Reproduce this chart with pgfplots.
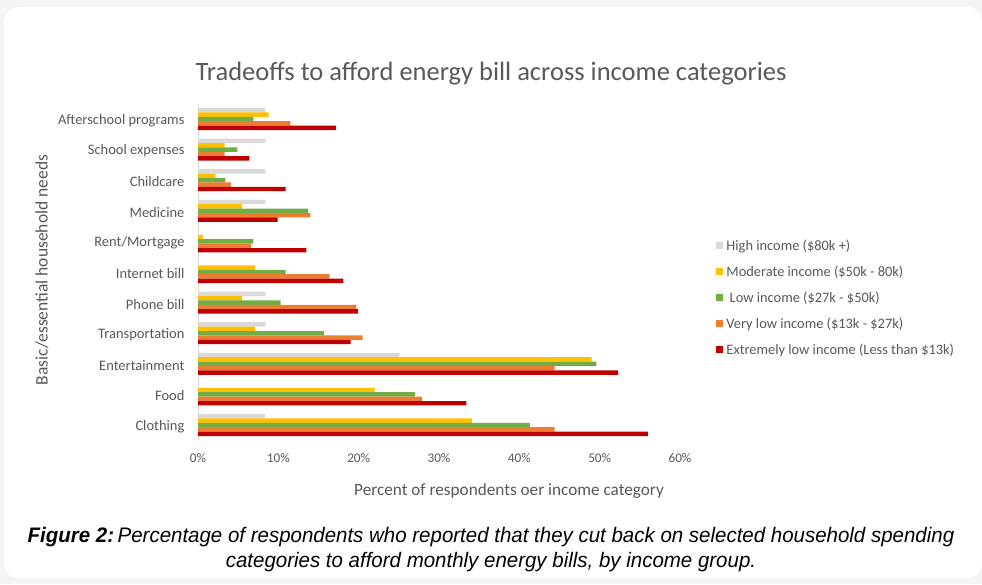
\documentclass[border=0pt]{standalone}
\usepackage{pgfplots}
\pgfplotsset{compat=1.18}
\usepackage{fontspec}
\setmainfont{Carlito}
\newfontfamily\capfont[FakeStretch=0.975]{Liberation Sans}
\definecolor{bggray}{HTML}{F4F5F3}
\definecolor{txtgray}{HTML}{595959}
\definecolor{axgray}{HTML}{D9D9D9}
\definecolor{cgray}{HTML}{D9D9D9}
\definecolor{cyellow}{HTML}{FFC000}
\definecolor{cgreen}{HTML}{70AD47}
\definecolor{corange}{HTML}{ED7D31}
\definecolor{cred}{HTML}{C00000}
\begin{document}
\begin{tikzpicture}[x=1pt,y=1pt]
\useasboundingbox (0,0) rectangle (982,584);
\fill[bggray] (0,0) rectangle (982,584);
\fill[white, rounded corners=15pt] (4,6) rectangle (982,577);
\node[text=txtgray, font=\fontsize{26.5}{30}\selectfont] at (491,510) {Tradeoffs to afford energy bill across income categories};
\node[text=txtgray, rotate=90, font=\fontsize{17.5}{20}\selectfont] at (42,314) {Basic/essential household needs};
\node[text=txtgray, font=\fontsize{17.2}{20}\selectfont] at (509,93) {Percent of respondents oer income category};
\node[font=\capfont\fontsize{21}{24}\selectfont\itshape] at (491,47) {\textbf{Figure 2:}\,Percentage of respondents who reported that they cut back on selected household spending};
\node[font=\capfont\fontsize{21}{24}\selectfont\itshape] at (491,22) {categories to afford monthly energy bills, by income group.};
\begin{axis}[
  at={(198pt,143.7pt)}, anchor=south west,
  scale only axis, width=482pt, height=336.6pt,
  xbar, bar width=4.4pt,
  y dir=reverse,
  xmin=0, xmax=60, ymin=-0.5, ymax=10.5,
  xtick={0,10,20,30,40,50,60},
  xticklabels={0\%,10\%,20\%,30\%,40\%,50\%,60\%},
  ytick={0,1,2,3,4,5,6,7,8,9,10},
  yticklabels={Afterschool programs,School expenses,Childcare,Medicine,Rent/Mortgage,Internet bill,Phone bill,Transportation,Entertainment,Food,Clothing},
  major tick length=0pt,
  axis x line*=bottom, axis y line*=left,
  x axis line style={draw=none,-},
  y axis line style={draw=axgray,-,line width=1pt},
  xticklabel style={text=txtgray, font=\fontsize{13.2}{15}\selectfont, yshift=-10pt},
  yticklabel style={text=txtgray, font=\fontsize{14.5}{17}\selectfont, xshift=-10pt, yshift=-1.5pt},
  legend style={at={(1.068,0.609)}, anchor=north west, draw=none, fill=none,
    font=\fontsize{14.4}{16}\selectfont, text=txtgray, row sep=10pt,
    legend cell align=left, nodes={inner xsep=3.5pt}},
  legend image code/.code={\fill[#1,draw=none] (0pt,-3.5pt) rectangle (7pt,3.5pt);},
]
\addplot[fill=cgray, draw=none, bar shift=8.8pt] coordinates {(8.4,0) (8.4,1) (8.4,2) (8.4,3) (8.4,6) (8.4,7) (25.1,8) (8.4,10)};
\addplot[fill=cyellow, draw=none, bar shift=4.4pt] coordinates {(8.8,0) (3.3,1) (2.2,2) (5.5,3) (0.6,4) (7.1,5) (5.5,6) (7.1,7) (49.0,8) (22.0,9) (34.1,10)};
\addplot[fill=cgreen, draw=none, bar shift=0pt] coordinates {(6.9,0) (4.9,1) (3.4,2) (13.7,3) (6.9,4) (10.9,5) (10.3,6) (15.7,7) (49.6,8) (27.0,9) (41.3,10)};
\addplot[fill=corange, draw=none, bar shift=-4.4pt] coordinates {(11.5,0) (3.3,1) (4.1,2) (14.0,3) (6.6,4) (16.4,5) (19.7,6) (20.5,7) (44.4,8) (27.9,9) (44.4,10)};
\addplot[fill=cred, draw=none, bar shift=-8.8pt] coordinates {(17.2,0) (6.4,1) (10.9,2) (9.9,3) (13.5,4) (18.1,5) (19.9,6) (19.0,7) (52.3,8) (33.4,9) (56.0,10)};
\legend{High income (\$80k +),Moderate income (\$50k - 80k),\ Low income (\$27k - \$50k),Very low income (\$13k - \$27k),Extremely low income (Less than \$13k)}
\end{axis}
\end{tikzpicture}
\end{document}
